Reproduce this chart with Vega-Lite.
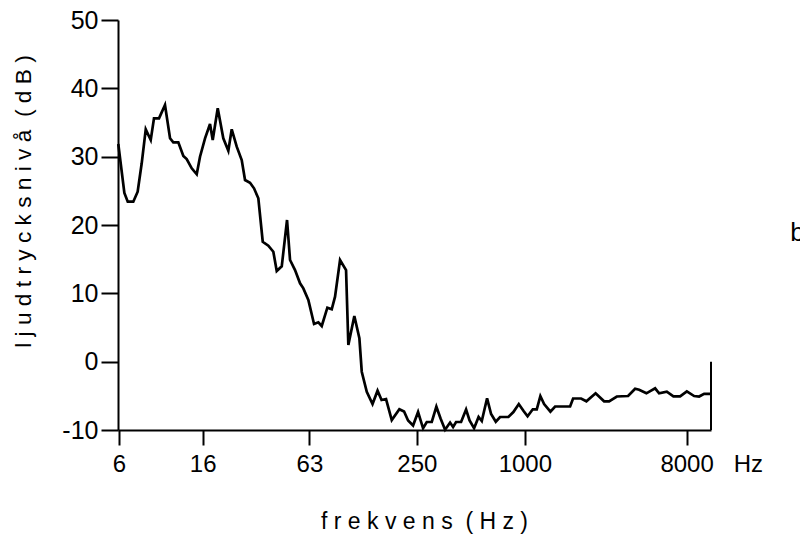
{
  "$schema": "https://vega.github.io/schema/vega-lite/v6.json",
  "width": 593,
  "height": 410,
  "autosize": {"type": "none"},
  "padding": {"left": 118, "top": 20, "right": 89, "bottom": 106},
  "background": "white",
  "config": {
    "view": {"stroke": null},
    "font": "Liberation Sans",
    "axis": {
      "domainColor": "black",
      "domainWidth": 2,
      "tickColor": "black",
      "tickWidth": 2,
      "labelColor": "black",
      "titleColor": "black",
      "labelFont": "Liberation Sans",
      "titleFont": "Liberation Sans",
      "grid": false,
      "labelFlush": false,
      "labelOverlap": false
    }
  },
  "datasets": {
    "spectrum": [
      {"f": 5.42, "db": 31.85}, {"f": 5.86, "db": 24.68}, {"f": 6.12, "db": 23.41}, {"f": 6.57, "db": 23.41},
      {"f": 6.95, "db": 24.87}, {"f": 7.32, "db": 29.03}, {"f": 7.71, "db": 34.0}, {"f": 8.22, "db": 32.44},
      {"f": 8.57, "db": 35.61}, {"f": 9.14, "db": 35.61}, {"f": 9.87, "db": 37.56}, {"f": 10.53, "db": 32.69},
      {"f": 10.98, "db": 32.1}, {"f": 11.71, "db": 32.1}, {"f": 12.49, "db": 30.1}, {"f": 13.04, "db": 29.66},
      {"f": 13.91, "db": 28.3}, {"f": 14.83, "db": 27.42}, {"f": 15.47, "db": 29.99}, {"f": 16.5, "db": 32.69},
      {"f": 17.59, "db": 34.78}, {"f": 18.21, "db": 32.44}, {"f": 19.42, "db": 37.08}, {"f": 20.86, "db": 32.69},
      {"f": 22.25, "db": 30.87}, {"f": 23.24, "db": 34.0}, {"f": 24.78, "db": 31.46}, {"f": 26.42, "db": 29.51},
      {"f": 27.57, "db": 26.58}, {"f": 29.39, "db": 26.19}, {"f": 30.94, "db": 25.37}, {"f": 32.7, "db": 23.91},
      {"f": 34.6, "db": 17.55}, {"f": 37.18, "db": 16.97}, {"f": 39.64, "db": 16.09}, {"f": 41.41, "db": 13.27},
      {"f": 44.16, "db": 13.95}, {"f": 47.26, "db": 20.73}, {"f": 49.12, "db": 14.88}, {"f": 52.37, "db": 13.41},
      {"f": 55.85, "db": 11.47}, {"f": 58.26, "db": 10.73}, {"f": 62.12, "db": 9.02}, {"f": 66.84, "db": 5.51},
      {"f": 70.63, "db": 5.76}, {"f": 73.79, "db": 5.22}, {"f": 79.29, "db": 7.9}, {"f": 83.88, "db": 7.66},
      {"f": 87.51, "db": 9.51}, {"f": 93.32, "db": 14.88}, {"f": 100.8, "db": 13.41}, {"f": 103.8, "db": 2.44},
      {"f": 112.1, "db": 6.68}, {"f": 119.6, "db": 3.42}, {"f": 123.3, "db": -1.47}, {"f": 131.5, "db": -4.4},
      {"f": 141.6, "db": -6.2}, {"f": 151.0, "db": -4.25}, {"f": 159.0, "db": -5.61}, {"f": 168.4, "db": -5.47},
      {"f": 181.2, "db": -8.54}, {"f": 199.8, "db": -6.97}, {"f": 212.2, "db": -7.3}, {"f": 223.4, "db": -8.61},
      {"f": 238.2, "db": -9.34}, {"f": 254.0, "db": -7.37}, {"f": 270.8, "db": -9.75}, {"f": 284.0, "db": -8.83},
      {"f": 302.8, "db": -8.83}, {"f": 321.2, "db": -6.59}, {"f": 339.0, "db": -8.32}, {"f": 359.2, "db": -9.96},
      {"f": 383.0, "db": -8.91}, {"f": 398.0, "db": -9.56}, {"f": 413.6, "db": -8.83}, {"f": 441.1, "db": -8.83},
      {"f": 470.3, "db": -7.0}, {"f": 491.9, "db": -8.61}, {"f": 521.2, "db": -9.75}, {"f": 552.2, "db": -8.1},
      {"f": 575.3, "db": -8.69}, {"f": 615.8, "db": -5.36}, {"f": 648.3, "db": -7.66}, {"f": 688.6, "db": -8.79},
      {"f": 727.6, "db": -8.1}, {"f": 809.4, "db": -8.1}, {"f": 863.1, "db": -7.37}, {"f": 925.0, "db": -6.2},
      {"f": 983.8, "db": -7.22}, {"f": 1035.6, "db": -8.0}, {"f": 1107, "db": -6.97}, {"f": 1165, "db": -6.97},
      {"f": 1220, "db": -5.03}, {"f": 1280, "db": -6.2}, {"f": 1388, "db": -7.32}, {"f": 1474, "db": -6.56},
      {"f": 1787, "db": -6.56}, {"f": 1857, "db": -5.39}, {"f": 2058, "db": -5.39}, {"f": 2203, "db": -5.8},
      {"f": 2479, "db": -4.63}, {"f": 2765, "db": -5.8}, {"f": 2948, "db": -5.8}, {"f": 3254, "db": -5.1},
      {"f": 3762, "db": -5.03}, {"f": 4116, "db": -3.96}, {"f": 4333, "db": -4.1}, {"f": 4758, "db": -4.63},
      {"f": 5321, "db": -3.9}, {"f": 5601, "db": -4.63}, {"f": 6182, "db": -4.4}, {"f": 6730, "db": -5.07},
      {"f": 7334, "db": -5.07}, {"f": 7993, "db": -4.34}, {"f": 8778, "db": -5.03}, {"f": 9359, "db": -5.1},
      {"f": 9980, "db": -4.7}, {"f": 10778, "db": -4.7}
    ],
    "side": [{"label": "b", "f": 30100, "db": 18.8}]
  },
  "layer": [
    {
      "data": {"name": "spectrum"},
      "mark": {"type": "line", "color": "black", "strokeWidth": 2.7, "strokeJoin": "miter", "strokeMiterLimit": 4},
      "encoding": {
        "x": {
          "field": "f",
          "type": "quantitative",
          "scale": {"type": "log", "domain": [5.4, 10900], "nice": false},
          "axis": {
            "values": [5.47, 16, 63, 250, 1000, 8000],
            "labelExpr": "datum.value < 10 ? '6' : (datum.value == 8000 ? '8000\u00a0\u00a0\u00a0Hz' : '' + datum.value)",
            "labelAlign": {"condition": {"test": "datum.value == 8000", "value": "left"}, "value": "center"},
            "labelOffset": {"condition": {"test": "datum.value == 8000", "value": -27}, "value": 0},
            "tickSize": 15,
            "labelFontSize": 24,
            "labelPadding": 7,
            "labelBaseline": "top",
            "title": "f r e k v e n s \u00a0( H z )",
            "titleFontSize": 23,
            "titleFontWeight": "normal",
            "titlePadding": 34,
            "titleX": 306
          }
        },
        "y": {
          "field": "db",
          "type": "quantitative",
          "scale": {"domain": [-10, 50], "nice": false, "zero": false},
          "axis": {
            "values": [-10, 0, 10, 20, 30, 40, 50],
            "labelExpr": "'' + datum.value",
            "tickSize": 17,
            "labelFontSize": 25,
            "labelPadding": 3,
            "title": "l j u d t r y c k s n i v å \u00a0( d B )",
            "titleFontSize": 22.7,
            "titleFontWeight": "normal",
            "titlePadding": 26,
            "titleY": 181
          }
        }
      }
    },
    {
      "data": {"values": [{"edge": "right"}]},
      "mark": {"type": "rule", "color": "black", "strokeWidth": 2},
      "encoding": {
        "x": {"datum": 10900, "type": "quantitative"},
        "y": {"datum": -10, "type": "quantitative"},
        "y2": {"datum": 0}
      }
    },
    {
      "data": {"name": "side"},
      "mark": {"type": "text", "align": "left", "baseline": "middle", "fontSize": 26, "color": "black", "clip": false},
      "encoding": {
        "x": {"field": "f", "type": "quantitative"},
        "y": {"field": "db", "type": "quantitative"},
        "text": {"field": "label"}
      }
    }
  ]
}
